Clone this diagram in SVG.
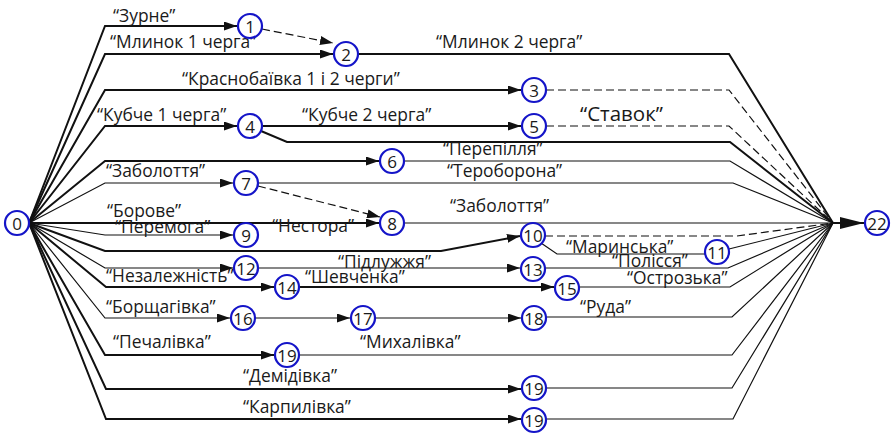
<svg xmlns="http://www.w3.org/2000/svg" width="894" height="438" viewBox="0 0 894 438">
  <style>
    .node circle { fill: #ffffff; stroke: #1414c8; stroke-width: 2.2; }
    .node text { font-family: "Open Sans", "Noto Sans", sans-serif; font-size: 17px; fill: #1a1a1a; text-anchor: middle; dominant-baseline: central; }
    .e { fill: none; stroke: #111111; }
    .thick { stroke-width: 2; }
    .thin { stroke-width: 1.2; }
    .dash { stroke-dasharray: 8 4; }
    .arr { marker-end: url(#head); }
    .lbl { font-family: "Open Sans", "Noto Sans", sans-serif; font-size: 17.4px; fill: #1a1a1a; }
    .big { font-size: 20.5px; }
  </style>
  <defs>
    <marker id="head" markerUnits="userSpaceOnUse" markerWidth="13" markerHeight="9" refX="13" refY="4.5" orient="auto">
      <path d="M0,0 L13,4.5 L0,9 z" fill="#111111"/>
    </marker>
    <marker id="headBig" markerUnits="userSpaceOnUse" markerWidth="24" markerHeight="12" refX="24" refY="6" orient="auto">
      <path d="M0,0 L24,6 L0,12 z" fill="#111111"/>
    </marker>
  </defs>
  <rect width="894" height="438" fill="#ffffff"/>

  <!-- connectors -->
  <g id="connectors">
    <!-- from start event 0 -->
    <path class="e thick arr" d="M29,223 L105,26 L237,26"/>
    <path class="e thick arr" d="M29,223 L105,54 L333,54"/>
    <path class="e thick arr" d="M29,223 L105,90 L521,90"/>
    <path class="e thick arr" d="M29,223 L105,126 L237,126"/>
    <path class="e thick arr" d="M29,223 L105,161 L379,161"/>
    <path class="e thin arr" d="M29,223 L105,183 L233,183"/>
    <path class="e thick arr" d="M29,223 L379,223"/>
    <path class="e thin arr" d="M29,223 L105,235 L233,235"/>
    <path class="e thick arr" d="M29,223 L105,251 L441,251 L520,236"/>
    <path class="e thin arr" d="M29,223 L105,268 L233,268"/>
    <path class="e thick arr" d="M29,223 L106,287 L274,287"/>
    <path class="e thin arr" d="M29,223 L105,318 L230,318"/>
    <path class="e thick arr" d="M29,223 L105,355 L274,355"/>
    <path class="e thick arr" d="M29,223 L106,389 L521,389"/>
    <path class="e thick arr" d="M29,223 L106,419 L521,419"/>

    <!-- intermediate links -->
    <path class="e thin dash arr" d="M262,29 L333,43"/>
    <path class="e thick arr" d="M262,126 L521,126"/>
    <path class="e thin dash arr" d="M258,186 L380,217"/>
    <path class="e thin arr" d="M258,268 L520,268"/>
    <path class="e thick arr" d="M299,287 L554,287"/>
    <path class="e thin arr" d="M255,318 L350,318"/>
    <path class="e thin arr" d="M375,318 L521,318"/>
    <path class="e thin" d="M541,243 L557,254 L705,254"/>

    <!-- into the finish event 22 -->
    <path class="e thick" d="M358,54 L729,54 L833,223"/>
    <path class="e thin dash" d="M546,90 L729,90 L833,223"/>
    <path class="e thin dash" d="M546,126 L729,126 L833,223"/>
    <path class="e thick" d="M261,131 L287,142 L730,142 L833,223"/>
    <path class="e thin" d="M404,161 L730,161 L833,223"/>
    <path class="e thin" d="M258,183 L733,183 L833,223"/>
    <path class="e thin" d="M404,223 L833,223"/>
    <path class="e thin dash" d="M545,236 L737,236 L833,223"/>
    <path class="e thin" d="M729,249 L833,223"/>
    <path class="e thin" d="M545,268 L728,268 L833,223"/>
    <path class="e thin" d="M579,287 L730,287 L833,223"/>
    <path class="e thin" d="M546,317 L732,317 L833,223"/>
    <path class="e thin" d="M299,355 L732,355 L833,223"/>
    <path class="e thin" d="M546,388 L732,388 L833,223"/>
    <path class="e thin" d="M546,419 L733,419 L833,223"/>
    <path class="e thick" d="M833,223 L864,223" marker-end="url(#headBig)"/>
  </g>

  <!-- activity labels -->
  <g id="labels">
    <text class="lbl" x="113" y="22">“Зурне”</text>
    <text class="lbl" x="110" y="48">“Млинок 1 черга”</text>
    <text class="lbl" x="436" y="48">“Млинок 2 черга”</text>
    <text class="lbl" x="182" y="85">“Краснобаївка 1 і 2 черги”</text>
    <text class="lbl" x="97" y="121">“Кубче 1 черга”</text>
    <text class="lbl" x="302" y="121">“Кубче 2 черга”</text>
    <text class="lbl big" x="580" y="121">“Ставок”</text>
    <text class="lbl" x="443" y="155">“Перепілля”</text>
    <text class="lbl" x="106" y="177">“Заболоття”</text>
    <text class="lbl" x="447" y="177">“Тероборона”</text>
    <text class="lbl" x="450" y="212">“Заболоття”</text>
    <text class="lbl" x="107" y="217">“Борове”</text>
    <text class="lbl" x="115" y="233">“Перемога”</text>
    <text class="lbl" x="272" y="232">“Нестора”</text>
    <text class="lbl" x="566" y="253">“Маринська”</text>
    <text class="lbl" x="612" y="267">“Полісся”</text>
    <text class="lbl" x="338" y="268">“Підлужжя”</text>
    <text class="lbl" x="106" y="282">“Незалежність”</text>
    <text class="lbl" x="305" y="283">“Шевченка”</text>
    <text class="lbl" x="627" y="284">“Острозька”</text>
    <text class="lbl" x="106" y="313">“Борщагівка”</text>
    <text class="lbl" x="580" y="313">“Руда”</text>
    <text class="lbl" x="113" y="348">“Печалівка”</text>
    <text class="lbl" x="360" y="348">“Михалівка”</text>
    <text class="lbl" x="243" y="382">“Демідівка”</text>
    <text class="lbl" x="243" y="413">“Карпилівка”</text>
  </g>

  <!-- events -->
  <g id="n0" class="node"><circle cx="17" cy="223" r="12"/><text x="17" y="223">0</text></g>
  <g id="n1" class="node"><circle cx="250" cy="26" r="12"/><text x="250" y="26">1</text></g>
  <g id="n2" class="node"><circle cx="346" cy="54" r="12"/><text x="346" y="54">2</text></g>
  <g id="n3" class="node"><circle cx="534" cy="90" r="12"/><text x="534" y="90">3</text></g>
  <g id="n4" class="node"><circle cx="250" cy="126" r="12"/><text x="250" y="126">4</text></g>
  <g id="n5" class="node"><circle cx="534" cy="126" r="12"/><text x="534" y="126">5</text></g>
  <g id="n6" class="node"><circle cx="392" cy="161" r="12"/><text x="392" y="161">6</text></g>
  <g id="n7" class="node"><circle cx="246" cy="183" r="12"/><text x="246" y="183">7</text></g>
  <g id="n8" class="node"><circle cx="392" cy="223" r="12"/><text x="392" y="223">8</text></g>
  <g id="n9" class="node"><circle cx="246" cy="235" r="12"/><text x="246" y="235">9</text></g>
  <g id="n10" class="node"><circle cx="533" cy="235" r="12"/><text x="533" y="235">10</text></g>
  <g id="n11" class="node"><circle cx="717" cy="252" r="12"/><text x="717" y="252">11</text></g>
  <g id="n12" class="node"><circle cx="246" cy="268" r="12"/><text x="246" y="268">12</text></g>
  <g id="n13" class="node"><circle cx="533" cy="269" r="12"/><text x="533" y="269">13</text></g>
  <g id="n14" class="node"><circle cx="287" cy="287" r="12"/><text x="287" y="287">14</text></g>
  <g id="n15" class="node"><circle cx="567" cy="288" r="12"/><text x="567" y="288">15</text></g>
  <g id="n16" class="node"><circle cx="243" cy="318" r="12"/><text x="243" y="318">16</text></g>
  <g id="n17" class="node"><circle cx="363" cy="318" r="12"/><text x="363" y="318">17</text></g>
  <g id="n18" class="node"><circle cx="534" cy="318" r="12"/><text x="534" y="318">18</text></g>
  <g id="n19a" class="node"><circle cx="287" cy="355" r="12"/><text x="287" y="355">19</text></g>
  <g id="n19b" class="node"><circle cx="534" cy="388" r="12"/><text x="534" y="388">19</text></g>
  <g id="n19c" class="node"><circle cx="534" cy="420" r="12"/><text x="534" y="420">19</text></g>
  <g id="n22" class="node"><circle cx="877" cy="223" r="12"/><text x="877" y="223">22</text></g>
</svg>
